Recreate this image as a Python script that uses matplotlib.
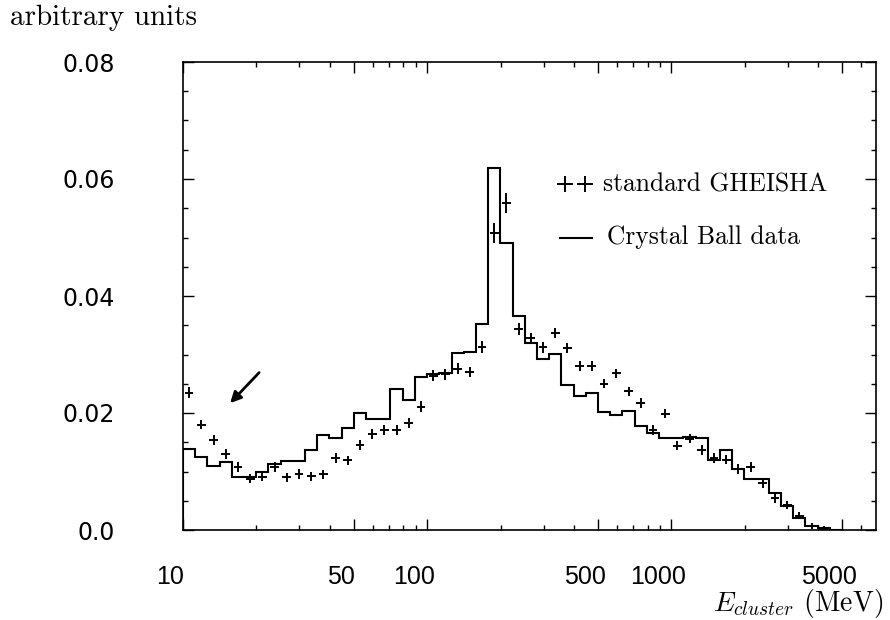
import numpy as np
import matplotlib.pyplot as plt
from matplotlib.ticker import FixedLocator, FixedFormatter, NullFormatter
from matplotlib.transforms import ScaledTranslation

plt.rcParams['mathtext.fontset'] = 'cm'

# 20 bins per decade, starting at 10 MeV
log_start = 1.0
log_bin = 0.05

# Crystal Ball data histogram (one value per bin)
cb_data = [0.0139, 0.0124, 0.0110, 0.0117, 0.0091, 0.0091, 0.0100, 0.0113,
           0.0118, 0.0118, 0.0137, 0.0162, 0.0157, 0.0174, 0.0200, 0.0189,
           0.0189, 0.0241, 0.0223, 0.0262, 0.0266, 0.0268, 0.0302, 0.0305,
           0.0352, 0.0619, 0.0490, 0.0366, 0.0319, 0.0293, 0.0301, 0.0248,
           0.0229, 0.0235, 0.0201, 0.0196, 0.0203, 0.0178, 0.0166, 0.0158,
           0.0158, 0.0159, 0.0158, 0.0120, 0.0137, 0.0104, 0.0088, 0.0088,
           0.0063, 0.0041, 0.0020, 0.0007, 0.0003, 0.0]

# standard GHEISHA simulation, same binning
gheisha = [0.0235, 0.0180, 0.0154, 0.0130, 0.0108, 0.0088, 0.0091, 0.0108,
           0.0090, 0.0096, 0.0092, 0.0095, 0.0123, 0.0119, 0.0145, 0.0164,
           0.0171, 0.0171, 0.0183, 0.0211, 0.0264, 0.0266, 0.0276, 0.0270,
           0.0313, 0.0507, 0.0559, 0.0344, 0.0328, 0.0312, 0.0337, 0.0311,
           0.0280, 0.0280, 0.0250, 0.0268, 0.0237, 0.0217, 0.0171, 0.0199,
           0.0144, 0.0156, 0.0137, 0.0123, 0.0120, 0.0104, 0.0108, 0.0080,
           0.0054, 0.0043, 0.0024, 0.0007, 0.0002]
gheisha_err = [0.0010, 0.0008, 0.0008, 0.0008, 0.0008, 0.0008, 0.0008, 0.0008,
               0.0008, 0.0008, 0.0008, 0.0008, 0.0008, 0.0008, 0.0008, 0.0008,
               0.0008, 0.0008, 0.0008, 0.0009, 0.0009, 0.0009, 0.0009, 0.0009,
               0.0010, 0.0017, 0.0017, 0.0010, 0.0009, 0.0009, 0.0009, 0.0009,
               0.0009, 0.0009, 0.0008, 0.0008, 0.0008, 0.0008, 0.0008, 0.0008,
               0.0008, 0.0008, 0.0008, 0.0008, 0.0008, 0.0008, 0.0008, 0.0008,
               0.0007, 0.0007, 0.0006, 0.0005, 0.0004]

major_ticks = [10, 50, 100, 500, 1000, 5000]
major_labels = ['10', '50', '100', '500', '1000', '5000']
minor_ticks = [20, 30, 40, 60, 70, 80, 90, 200, 300, 400, 600, 700, 800, 900,
               2000, 3000, 4000, 6000]
y_ticks = [0.0, 0.02, 0.04, 0.06, 0.08]
y_labels = ['0.0', '0.02', '0.04', '0.06', '0.08']

edges = 10 ** (log_start + log_bin * np.arange(len(cb_data) + 1))
centers = np.sqrt(edges[:-1] * edges[1:])[:len(gheisha)]
half = 10 ** 0.018
xerr = [centers - centers / half, centers * half - centers]

fig = plt.figure(figsize=(8.9, 6.2), dpi=100)
ax = fig.add_axes([183 / 890, 90 / 620, 693 / 890, 468 / 620])

ax.stairs(cb_data, edges, color='black', lw=1.5)
ax.errorbar(centers, gheisha, xerr=xerr, yerr=gheisha_err, fmt='none',
            ecolor='black', elinewidth=1.4, capsize=0)

ax.annotate('', xy=(15.6, 0.0217), xytext=(20.5, 0.0269),
            arrowprops=dict(arrowstyle='-|>', color='black', lw=2.0,
                            mutation_scale=16, shrinkA=0, shrinkB=0))

ax.set_xscale('log')
ax.set_xlim(10, 6900)
ax.set_ylim(0, 0.08)

ax.xaxis.set_major_locator(FixedLocator(major_ticks))
ax.xaxis.set_major_formatter(FixedFormatter(major_labels))
ax.xaxis.set_minor_locator(FixedLocator(minor_ticks))
ax.xaxis.set_minor_formatter(NullFormatter())
ax.yaxis.set_major_locator(FixedLocator(y_ticks))
ax.yaxis.set_major_formatter(FixedFormatter(y_labels))
ax.yaxis.set_minor_locator(FixedLocator(np.arange(0.005, 0.08, 0.005)))

ax.tick_params(which='both', direction='in', top=True, right=True,
               width=1.0, color='black')
ax.tick_params(which='major', length=8)
ax.tick_params(which='minor', length=3.5)
ax.tick_params(axis='x', which='major', pad=25)
ax.tick_params(axis='y', which='major', pad=49)
for lab in ax.get_xticklabels():
    lab.set_fontfamily(['Liberation Sans', 'DejaVu Sans'])
    lab.set_fontsize(18)
    lab.set_transform(lab.get_transform()
                      + ScaledTranslation(-0.13, 0, fig.dpi_scale_trans))
for lab in ax.get_yticklabels():
    lab.set_fontfamily('DejaVu Sans')
    lab.set_fontsize(17)
for sp in ax.spines.values():
    sp.set_linewidth(1.2)

ax.set_xlabel(r'$E_{cluster}$ (MeV)', fontfamily='cmr10', fontsize=20,
              ha='right', va='top')
ax.xaxis.set_label_coords(1.01, -0.122)
fig.text(10 / 890, 1 - 18 / 620, 'arbitrary units', fontfamily='cmr10',
         fontsize=21, va='center', ha='left')

# key in the upper right
ax.plot([0.551, 0.580], [0.739, 0.739], ls='none', marker='+', ms=12,
        mew=1.4, color='black', transform=ax.transAxes)
ax.text(0.606, 0.739, 'standard GHEISHA', transform=ax.transAxes,
        fontfamily='cmr10', fontsize=18.4, va='center', ha='left')
ax.plot([0.544, 0.590], [0.624, 0.624], color='black', lw=1.5,
        transform=ax.transAxes)
ax.text(0.612, 0.626, 'Crystal Ball data', transform=ax.transAxes,
        fontfamily='cmr10', fontsize=18.4, va='center', ha='left')

fig.savefig('out.png', dpi=100)
